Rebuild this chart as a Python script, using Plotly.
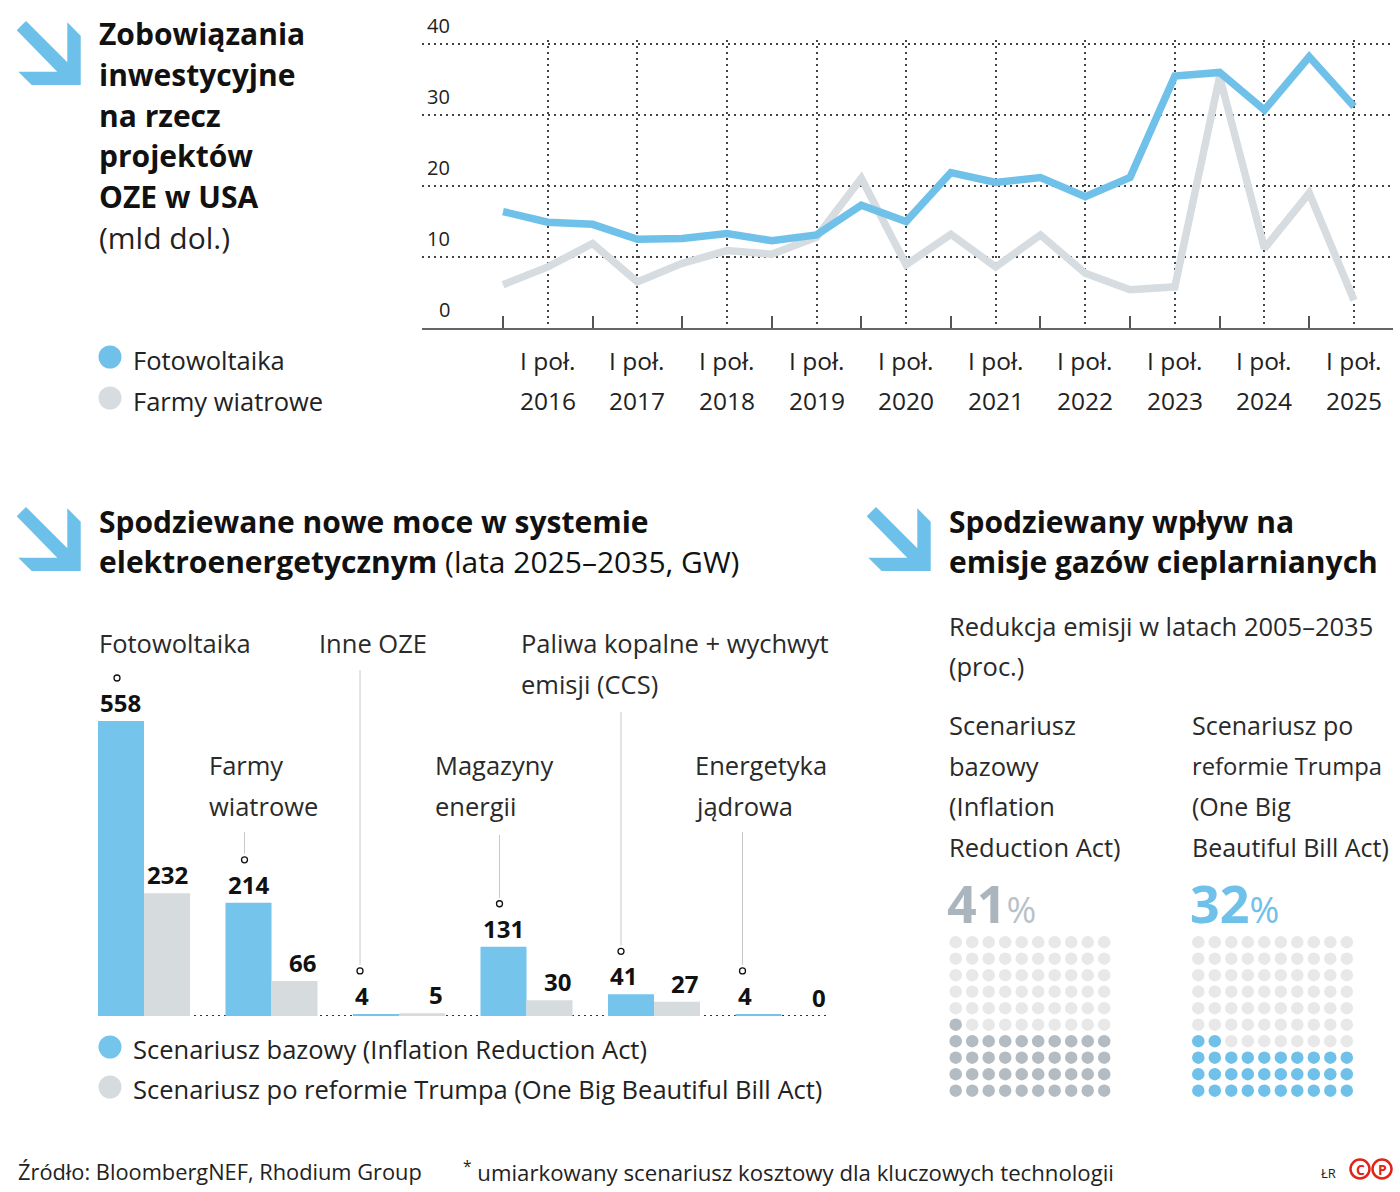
import plotly.graph_objects as go

W, H = 1400, 1192
FONT = "Open Sans"
BLUE = "#6fc1ea"
GRAY_LINE = "#d6dcdf"
GRAY_BAR = "#d6dbde"
DARK_DOT = "#b3bcc3"
LIGHT_DOT = "#e8e8e8"
TXT = "#222222"
BODY = 25.5
TITLE = 30

# ---------------- DATA ----------------
periods = ["II poł. 2015", "I poł. 2016", "II poł. 2016", "I poł. 2017", "II poł. 2017",
           "I poł. 2018", "II poł. 2018", "I poł. 2019", "II poł. 2019", "I poł. 2020",
           "II poł. 2020", "I poł. 2021", "II poł. 2021", "I poł. 2022", "II poł. 2022",
           "I poł. 2023", "II poł. 2023", "I poł. 2024", "II poł. 2024", "I poł. 2025"]
solar_invest = [16.4, 14.9, 14.6, 12.5, 12.6, 13.3, 12.3, 13.1, 17.3, 15.0,
                21.9, 20.5, 21.2, 18.5, 21.2, 35.5, 36.0, 30.7, 38.2, 31.2]
wind_invest = [6.1, 8.6, 11.9, 6.5, 9.1, 10.9, 10.4, 12.8, 21.1, 8.9,
               13.2, 8.6, 13.1, 7.7, 5.4, 5.8, 35.4, 11.2, 19.0, 3.9]
half_label = "I poł."
year_labels = ["2016", "2017", "2018", "2019", "2020", "2021", "2022", "2023", "2024", "2025"]
invest_yticks = [0, 10, 20, 30, 40]

capacity_categories = ["Fotowoltaika", "Farmy wiatrowe", "Inne OZE", "Magazyny energii",
                       "Paliwa kopalne + wychwyt emisji (CCS)", "Energetyka jądrowa"]
capacity_base = [558, 214, 4, 131, 41, 4]
capacity_trump = [232, 66, 5, 30, 27, 0]

reduction_base = 41
reduction_trump = 32

# ---------------- HELPERS ----------------
def px(x):
    return x / W

def py(y):
    return 1 - y / H

annotations = []
shapes = []

def text(x, y, s, size=BODY, color=TXT, xanchor="left", bold=False, family=FONT):
    if bold:
        s = "<b>" + s + "</b>"
    annotations.append(dict(x=px(x), y=py(y), xref="paper", yref="paper", text=s,
                            showarrow=False, xanchor=xanchor, yanchor="middle",
                            font=dict(size=size, color=color, family=family)))

def arrow(ox, oy):
    pts = [(16.7, 30.3), (26, 21), (67.3, 62.3), (67.3, 22.3), (80.7, 35.7),
           (80.7, 85), (31.7, 85), (18.3, 71.7), (57.3, 71.7)]
    d = "M " + " L ".join(f"{px(x + ox)},{py(y + oy)}" for x, y in pts) + " Z"
    shapes.append(dict(type="path", path=d, xref="paper", yref="paper",
                       fillcolor="#6cc0ea", line=dict(width=0)))

def dot(cx, cy, r, color):
    shapes.append(dict(type="circle", xref="paper", yref="paper",
                       x0=px(cx - r), x1=px(cx + r), y0=py(cy + r), y1=py(cy - r),
                       fillcolor=color, line=dict(width=0)))

fig = go.Figure()

# ---------------- TOP: LINE CHART ----------------
x_idx = list(range(len(periods)))
fig.add_trace(go.Scatter(x=x_idx, y=wind_invest, mode="lines", name="Farmy wiatrowe",
                         line=dict(color=GRAY_LINE, width=7.5), xaxis="x", yaxis="y",
                         hoverinfo="skip"))
fig.add_trace(go.Scatter(x=x_idx, y=solar_invest, mode="lines", name="Fotowoltaika",
                         line=dict(color=BLUE, width=7.5), xaxis="x", yaxis="y",
                         hoverinfo="skip"))

step = (1354 - 503) / 19.0
h1_idx = [i for i, p in enumerate(periods) if p.startswith("I poł.")]
h2_idx = [i for i, p in enumerate(periods) if p.startswith("II poł.")]

y_ppu = (328 - 44) / 40.0
fig.update_layout(
    xaxis=dict(domain=[px(422), px(1393)],
               range=[-(503 - 422) / step, 19 + (1393 - 1354) / step],
               tickmode="array", tickvals=h1_idx, showticklabels=False, ticks="",
               showgrid=True, gridcolor="#444", gridwidth=1.5, griddash="1.5px,4.5px",
               showline=True, linecolor="#666", linewidth=2, zeroline=False,
               minor=dict(tickmode="array", tickvals=h2_idx, ticks="inside", ticklen=12,
                          tickwidth=1.5, tickcolor="#555", showgrid=False),
               fixedrange=True, anchor="y"),
    yaxis=dict(domain=[py(328), py(328 - 40.5 * y_ppu)], range=[0, 40.5],
               tickmode="array", tickvals=invest_yticks[1:], showticklabels=False,
               showgrid=True, gridcolor="#444", gridwidth=1.5, griddash="1.5px,4.5px",
               zeroline=False, fixedrange=True, anchor="x"),
)

for v in invest_yticks:
    annotations.append(dict(x=px(452), y=v, xref="paper", yref="y", yshift=18,
                            text=str(v), showarrow=False, xanchor="right", yanchor="middle",
                            font=dict(size=20, color=TXT, family=FONT)))

for i, yl in zip(h1_idx, year_labels):
    annotations.append(dict(x=i, y=py(360), xref="x", yref="paper", text=half_label,
                            showarrow=False, xanchor="center", yanchor="middle",
                            font=dict(size=24.5, color=TXT, family=FONT)))
    annotations.append(dict(x=i, y=py(401), xref="x", yref="paper", text=yl,
                            showarrow=False, xanchor="center", yanchor="middle",
                            font=dict(size=24.5, color=TXT, family=FONT)))

# Title top
arrow(0, 0)
for j, line in enumerate(["Zobowiązania", "inwestycyjne", "na rzecz", "projektów", "OZE w USA"]):
    text(97, 34 + j * 40.6, line, size=TITLE, color="#111", bold=True)
text(97, 237, "(mld dol.)", size=TITLE, color="#222")

# Legend top
dot(110, 357, 11.5, BLUE)
dot(110, 398, 11.5, GRAY_LINE)
text(131, 360, "Fotowoltaika")
text(131, 401, "Farmy wiatrowe")

# ---------------- BOTTOM LEFT: BAR CHART ----------------
cat_idx = list(range(len(capacity_categories)))
fig.add_trace(go.Bar(x=cat_idx, y=capacity_base, name="Scenariusz bazowy",
                     marker=dict(color="#74c4eb", line=dict(width=0)),
                     xaxis="x2", yaxis="y2", hoverinfo="skip"))
fig.add_trace(go.Bar(x=cat_idx, y=capacity_trump, name="Scenariusz po reformie Trumpa",
                     marker=dict(color=GRAY_BAR, line=dict(width=0)),
                     xaxis="x2", yaxis="y2", hoverinfo="skip"))

BAR_BASE = 1016
BAR_TOP = 619.5
YMAX2 = 750
ppu2 = (BAR_BASE - BAR_TOP) / YMAX2
bargap = 0.2784
half = (1 - bargap) / 2
x2_left, x2_right = 98, 830
x2_range = [-half, -half + (x2_right - x2_left) / 127.5]

fig.update_layout(
    barmode="group", bargap=bargap, bargroupgap=0,
    xaxis2=dict(domain=[px(x2_left), px(x2_right)], range=x2_range, visible=False,
                fixedrange=True, anchor="y2"),
    yaxis2=dict(domain=[py(BAR_BASE), py(BAR_TOP)], range=[0, YMAX2], visible=False,
                fixedrange=True, anchor="x2"),
)
shapes.append(dict(type="line", xref="x2 domain", yref="y2", x0=0, x1=1, y0=0, y1=0,
                   line=dict(color="#333", width=2, dash="2px,4px"), layer="below"))

leader_tops = [None, 832, 670, 835, 712, 832]
for i, (b, t) in enumerate(zip(capacity_base, capacity_trump)):
    annotations.append(dict(x=i - half, y=b, xref="x2", yref="y2", yshift=0,
                            text="<b>%d</b>" % b, showarrow=False, xanchor="left",
                            yanchor="bottom", font=dict(size=24, color="#111", family=FONT)))
    annotations.append(dict(x=i + half, y=t, xref="x2", yref="y2", yshift=0,
                            text="<b>%d</b>" % t, showarrow=False, xanchor="right",
                            yanchor="bottom", font=dict(size=24, color="#111", family=FONT)))
    off = 6 * len(str(b)) + 1
    shapes.append(dict(type="circle", xref="x2", yref="y2", xsizemode="pixel",
                       ysizemode="pixel", xanchor=i - half, yanchor=b,
                       x0=off - 3, x1=off + 3, y0=40, y1=46,
                       fillcolor="white", line=dict(color="#111", width=1.3)))
    if leader_tops[i] is not None:
        top_rel = (BAR_BASE - b * ppu2) - leader_tops[i]
        shapes.append(dict(type="line", xref="x2", yref="y2", xsizemode="pixel",
                           ysizemode="pixel", xanchor=i - half, yanchor=b,
                           x0=off, x1=off, y0=49, y1=top_rel,
                           line=dict(color="#c8c8c8", width=1)))

# category labels
cat_label_pos = [(98, 643, ["Fotowoltaika"]),
                 (208, 765, ["Farmy", "wiatrowe"]),
                 (318, 643, ["Inne OZE"]),
                 (434, 765, ["Magazyny", "energii"]),
                 (520, 643, ["Paliwa kopalne + wychwyt", "emisji (CCS)"]),
                 (694, 765, ["Energetyka", "jądrowa"])]
for x, y, lines in cat_label_pos:
    for j, ln in enumerate(lines):
        text(x - 1, y + j * 40.5, ln, color="#2a2a2a")

arrow(0, 486)
text(97, 521, "Spodziewane nowe moce w systemie", size=TITLE, color="#111", bold=True)
text(97, 561, "<b>elektroenergetycznym</b> (lata 2025–2035, GW)", size=TITLE, color="#111")

dot(110, 1047, 11.5, "#74c4eb")
dot(110, 1087, 11.5, GRAY_BAR)
text(131, 1049, "Scenariusz bazowy (Inflation Reduction Act)")
text(131, 1089, "Scenariusz po reformie Trumpa (One Big Beautiful Bill Act)")

# ---------------- BOTTOM RIGHT: EMISSIONS ----------------
arrow(850, 486)
text(947, 521, "Spodziewany wpływ na", size=TITLE, color="#111", bold=True)
text(947, 561, "emisje gazów cieplarnianych", size=TITLE, color="#111", bold=True)
text(947, 626, "Redukcja emisji w latach 2005–2035", color="#2a2a2a")
text(947, 666, "(proc.)", color="#2a2a2a")
for j, ln in enumerate(["Scenariusz", "bazowy", "(Inflation", "Reduction Act)"]):
    text(947, 725 + j * 40.5, ln, color="#2a2a2a")
col2 = [("Scenariusz po", 25), ("reformie Trumpa", 23.8), ("(One Big", 25),
        ("Beautiful Bill Act)", 25)]
for j, (ln, sz) in enumerate(col2):
    text(1190, 725 + j * 40.5, ln, size=sz, color="#2a2a2a")

text(945, 902, "<b>%d</b><span style='font-size:36px;color:#b9c2c9'>%%</span>" % reduction_base,
     size=52, color="#abb5be")
text(1188, 902, "<b>%d</b><span style='font-size:36px'>%%</span>" % reduction_trump,
     size=52, color=BLUE)

def waffle(n, filled_color, xa, ya):
    xs, ys, cs = [], [], []
    for k in range(100):
        xs.append(k % 10)
        ys.append(k // 10)
        cs.append(filled_color if k < n else LIGHT_DOT)
    fig.add_trace(go.Scatter(x=xs, y=ys, mode="markers", xaxis=xa, yaxis=ya,
                             marker=dict(size=12.5, color=cs, line=dict(width=0)),
                             hoverinfo="skip"))

waffle(reduction_base, DARK_DOT, "x3", "y3")
waffle(reduction_trump, BLUE, "x4", "y4")
sp = 16.5
fig.update_layout(
    xaxis3=dict(domain=[px(955.7 - sp / 2), px(955.7 + 9.5 * sp)], range=[-0.5, 9.5],
                visible=False, fixedrange=True, anchor="y3"),
    yaxis3=dict(domain=[py(1090.7 + sp / 2), py(1090.7 - 9.5 * sp)], range=[-0.5, 9.5],
                visible=False, fixedrange=True, anchor="x3"),
    xaxis4=dict(domain=[px(1198.3 - sp / 2), px(1198.3 + 9.5 * sp)], range=[-0.5, 9.5],
                visible=False, fixedrange=True, anchor="y4"),
    yaxis4=dict(domain=[py(1090.7 + sp / 2), py(1090.7 - 9.5 * sp)], range=[-0.5, 9.5],
                visible=False, fixedrange=True, anchor="x4"),
)

# ---------------- FOOTER ----------------
text(16, 1171, "Źródło: BloombergNEF, Rhodium Group", size=21.8, color="#222")
text(461, 1171, "<sup>*</sup> umiarkowany scenariusz kosztowy dla kluczowych technologii",
     size=22.2, color="#222")
text(1319, 1173, "ŁR", size=13, color="#222")
for cx, letter in [(1360, "C"), (1382, "P")]:
    shapes.append(dict(type="circle", xref="paper", yref="paper",
                       x0=px(cx - 9.5), x1=px(cx + 9.5), y0=py(1169 + 9.5), y1=py(1169 - 9.5),
                       line=dict(color="#e2231a", width=2.5), fillcolor="white"))
    text(cx, 1169.5, letter, size=14, color="#e2231a", xanchor="center", bold=True)

fig.update_layout(
    width=W, height=H, margin=dict(l=0, r=0, t=0, b=0, pad=0),
    paper_bgcolor="white", plot_bgcolor="rgba(0,0,0,0)",
    showlegend=False, hovermode=False,
    font=dict(family=FONT, color=TXT),
    annotations=annotations, shapes=shapes,
)

fig.write_html("out.html", config={"displayModeBar": False},
               post_script="document.body.style.margin='0';document.body.style.padding='0';")
